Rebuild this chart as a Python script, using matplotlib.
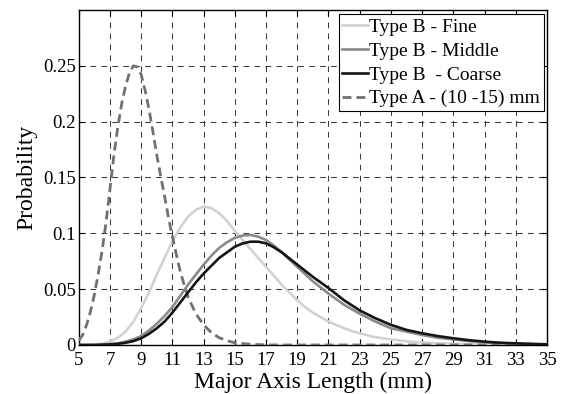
import numpy as np
import matplotlib
matplotlib.use("Agg")
import matplotlib.pyplot as plt

# ---- data ----
x_b = [5, 5.5, 6, 6.5, 7, 7.5, 8, 8.5, 9, 9.5, 10, 10.5, 11, 11.5, 12, 12.5, 13, 13.5,
       14, 14.5, 15, 15.5, 16, 16.5, 17, 17.5, 18, 18.5, 19, 19.5, 20, 20.5, 21, 21.5,
       22, 22.5, 23, 23.5, 24, 25, 26, 27, 28, 29, 30, 31, 32, 33, 34, 35]
fine = [0.0, 0.0, 0.0005, 0.0012, 0.003, 0.0065, 0.012, 0.021, 0.033, 0.047, 0.063,
        0.078, 0.093, 0.105, 0.115, 0.121, 0.124, 0.1225, 0.118, 0.111, 0.102, 0.094,
        0.086, 0.078, 0.070, 0.062, 0.054, 0.047, 0.040, 0.034, 0.029, 0.025, 0.021,
        0.018, 0.015, 0.0125, 0.0105, 0.0087, 0.007, 0.005, 0.0033, 0.0022, 0.0015,
        0.001, 0.0006, 0.0004, 0.0002, 0.0001, 0.0, 0.0]
middle = [0.0, 0.0, 0.0, 0.0003, 0.0007, 0.0015, 0.003, 0.005, 0.008, 0.013, 0.019,
          0.026, 0.034, 0.044, 0.054, 0.063, 0.072, 0.080, 0.087, 0.092, 0.096, 0.098,
          0.0985, 0.097, 0.094, 0.089, 0.083, 0.0765, 0.070, 0.0635, 0.057, 0.0515,
          0.046, 0.041, 0.036, 0.032, 0.028, 0.0245, 0.021, 0.015, 0.012, 0.009,
          0.0065, 0.005, 0.0035, 0.0025, 0.0017, 0.0011, 0.0007, 0.0005]
coarse = [0.0, 0.0, 0.0, 0.0002, 0.0005, 0.001, 0.002, 0.0035, 0.006, 0.010, 0.015,
          0.021, 0.029, 0.038, 0.047, 0.056, 0.064, 0.071, 0.078, 0.083, 0.088, 0.091,
          0.0925, 0.0925, 0.091, 0.0875, 0.083, 0.0775, 0.072, 0.0665, 0.061, 0.056,
          0.051, 0.0455, 0.040, 0.0355, 0.031, 0.0275, 0.024, 0.018, 0.0135, 0.0105,
          0.008, 0.006, 0.0043, 0.003, 0.002, 0.0015, 0.001, 0.0006]
x_a = [5.0, 5.25, 5.5, 5.75, 6.0, 6.25, 6.5, 6.75, 7.0, 7.25, 7.5, 7.75, 8.0, 8.25,
       8.5, 8.75, 9.0, 9.25, 9.5, 9.75, 10.0, 10.25, 10.5, 10.75, 11.0, 11.25, 11.5,
       11.75, 12.0, 12.5, 13.0, 13.5, 14.0, 14.5, 15.0, 16.0, 17.0, 18.0, 20.0, 25.0,
       30.0, 35.0]
type_a = [0.004, 0.009, 0.018, 0.030, 0.045, 0.064, 0.085, 0.110, 0.140, 0.170, 0.195,
          0.216, 0.232, 0.244, 0.250, 0.249, 0.242, 0.228, 0.211, 0.191, 0.170, 0.151,
          0.133, 0.114, 0.097, 0.081, 0.066, 0.054, 0.043, 0.028, 0.018, 0.011, 0.0065,
          0.0038, 0.002, 0.0006, 0.0001, 0.0, 0.0, 0.0, 0.0, 0.0]

labels = ["Type B - Fine", "Type B - Middle", "Type B  - Coarse", "Type A - (10 -15) mm"]
xticks = list(range(5, 36, 2))
yticks = [0, 0.05, 0.1, 0.15, 0.2, 0.25]
ytick_labels = ["0", "0.05", "0.1", "0.15", "0.2", "0.25"]

plt.rcParams['font.family'] = ['Liberation Serif', 'DejaVu Serif']
plt.rcParams['mathtext.fontset'] = 'stix'

fig = plt.figure(figsize=(5.68, 3.94), dpi=100)
ax = fig.add_axes([0.1387, 0.1244, 0.9630 - 0.1387, 0.9746 - 0.1244])

ax.plot(x_b, fine, color='#d2d2d2', lw=1.9, label=labels[0], zorder=3)
ax.plot(x_b, middle, color='#8a8a8a', lw=1.9, label=labels[1], zorder=3)
ax.plot(x_b, coarse, color='#151515', lw=1.9, label=labels[2], zorder=4)
ax.plot(x_a, type_a, color='#707070', lw=2.0, ls=(0, (3.2, 1.8)), label=labels[3], zorder=3)

ax.set_xlim(5, 35)
ax.set_ylim(0, 0.3)
ax.set_xticks(xticks)
ax.set_xticklabels([str(t) for t in xticks])
ax.set_yticks(yticks)
ax.set_yticklabels(ytick_labels)

ax.grid(True, color='#3a3a3a', lw=0.75, ls=(0, (5.5, 5.0)), zorder=1)
ax.set_axisbelow(True)

ax.tick_params(direction='in', length=4, width=0.8, top=True, right=True,
               labelsize=13.5, colors='black')
ax.tick_params(axis='x', pad=5)
ax.tick_params(axis='y', pad=2)
for s in ax.spines.values():
    s.set_linewidth(1.0)
    s.set_color('black')

ax.set_xlabel("Major Axis Length (mm)", fontsize=17, labelpad=2)
ax.set_ylabel("Probability", fontsize=17, labelpad=4)

leg = ax.legend(loc='upper right', bbox_to_anchor=(0.9936, 0.987),
                fontsize=14, frameon=True, fancybox=False,
                edgecolor='black', framealpha=1.0, borderaxespad=0.0,
                handlelength=1.3, handletextpad=0.08, labelspacing=0.32,
                borderpad=0.2)
leg.get_frame().set_linewidth(0.8)

fig.savefig("out.png", dpi=100)
